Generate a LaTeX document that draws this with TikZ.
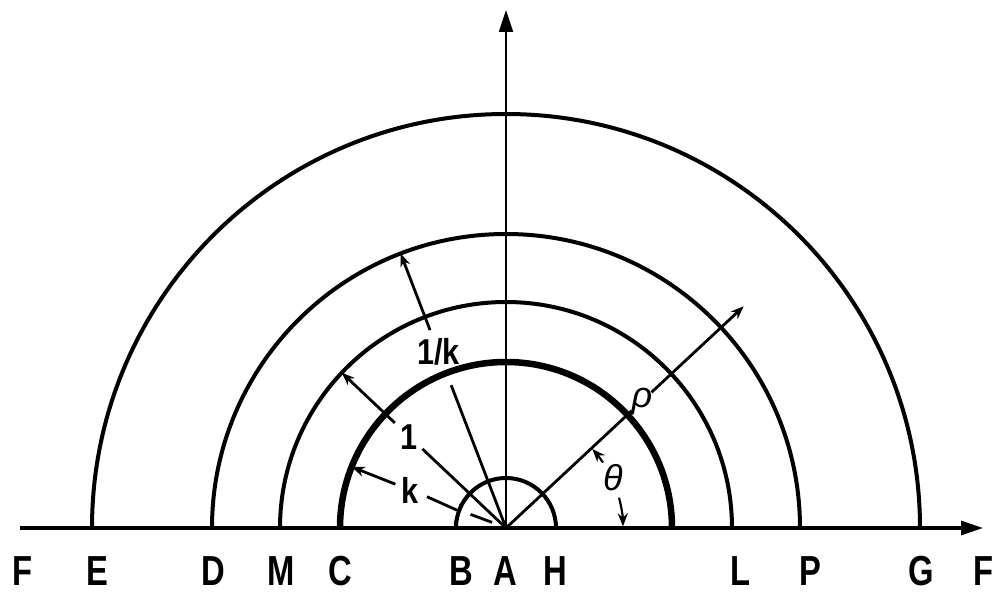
\documentclass[tikz,border=0pt]{standalone}
\usepackage{fontspec}
\setmainfont{Liberation Sans}
\usetikzlibrary{arrows.meta}
\begin{document}
\begin{tikzpicture}[x=1pt,y=1pt,
  arcline/.style={line width=4pt},
  thickarc/.style={line width=6.5pt},
  axisline/.style={line width=3.2pt},
  radline/.style={line width=2.8pt},
  bigtip/.style={-{Triangle[length=22pt,width=14pt]}},
  smalltip/.style={-{Stealth[length=13pt,width=10pt]}},
  lab/.style={font=\fontsize{42}{42}\selectfont\bfseries, xscale=0.78, inner sep=0},
  rlab/.style={font=\fontsize{36}{36}\selectfont\bfseries, xscale=0.85, inner sep=0},
  glab/.style={font=\fontsize{36}{36}\selectfont\itshape, inner sep=0},
]
\useasboundingbox (0,0) rectangle (999,598);
\begin{scope}[shift={(506,70)}]
\coordinate (O) at (0,0);
\coordinate (xs) at (-486,0);
\coordinate (xe) at (477,0);
\coordinate (ye) at (0,518);
% axes
\draw[axisline,bigtip] (xs) -- (xe);
\draw[line width=2.2pt,bigtip] (O) -- (ye);
% semicircles
\draw[arcline] (50,0) arc[start angle=0,end angle=180,radius=50];
\draw[thickarc] (166,0) arc[start angle=0,end angle=180,radius=166];
\draw[arcline] (226,0) arc[start angle=0,end angle=180,radius=226];
\draw[arcline] (294,0) arc[start angle=0,end angle=180,radius=294];
\draw[arcline] (414,0) arc[start angle=0,end angle=180,radius=414];
% k line
\coordinate (k1) at (158.4:166);
\coordinate (k2) at (158.4:119);
\coordinate (k3) at (158.4:85);
\coordinate (k4) at (160:52);
\coordinate (t1) at (-45,24);
\coordinate (t2) at (-51,4);
\coordinate (k5) at (159:38);
\coordinate (k6) at (158:15);
\draw[radline,smalltip] (k2) -- (k1);
\draw[radline] (k3) -- (k4);
\draw[radline] (t1) -- (t2);
\draw[radline] (k5) -- (k6);
\node[rlab] (klab) at (158.4:103) {k};
% 1 line
\coordinate (a1) at (136.6:226);
\coordinate (a2) at (136.6:153);
\coordinate (a3) at (136.6:115);
\draw[radline,smalltip] (a2) -- (a1);
\draw[radline] (a3) -- (O);
\node[rlab] (onelab) at (136.6:133) {1};
% 1/k line
\coordinate (b1) at (111:294);
\coordinate (b2) at (111:212);
\coordinate (b3) at (111:153);
\draw[radline,smalltip] (b2) -- (b1);
\draw[radline] (b3) -- (O);
\node[rlab] (invlab) at (111:189) {1/k};
% rho line
\coordinate (r1) at (43:172);
\coordinate (r2) at (43:199);
\coordinate (r3) at (43:325);
\draw[radline] (O) -- (r1);
\draw[radline,smalltip] (r2) -- (r3);
\node[glab] (rholab) at (43:186) {ρ};
% theta
\draw[line width=2.2pt,smalltip] (34:117) arc[start angle=34,end angle=42.5,radius=117];
\draw[line width=2.2pt,smalltip] (15:117) arc[start angle=15,end angle=0.8,radius=117];
\node[glab] (thlab) at (25:118) {θ};
% axis labels
\node[lab] (F1) at (-483,-43) {F};
\node[lab] (E) at (-409,-43) {E};
\node[lab] (D) at (-293,-43) {D};
\node[lab] (M) at (-225,-43) {M};
\node[lab] (C) at (-166,-43) {C};
\node[lab] (B) at (-45,-43) {B};
\node[lab] (A) at (-1,-43) {A};
\node[lab] (H) at (49,-43) {H};
\node[lab] (L) at (234,-43) {L};
\node[lab] (P) at (304,-43) {P};
\node[lab] (G) at (415,-43) {G};
\node[lab] (F2) at (477,-43) {F};
\end{scope}
\end{tikzpicture}
\end{document}
